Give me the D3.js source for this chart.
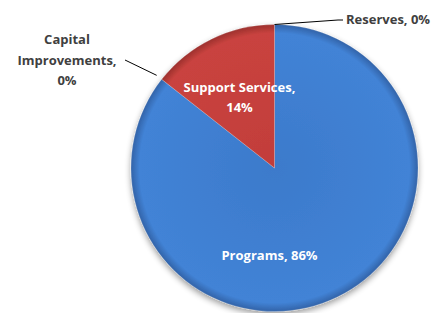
<!DOCTYPE html>
<html>
<head>
<meta charset="utf-8">
<script src="https://cdn.jsdelivr.net/npm/d3@7"></script>
<style>
  body { margin: 0; background: #fff; }
  svg text { font-family: "Open Sans", "Liberation Sans", sans-serif; font-weight: bold; font-size: 13px; }
</style>
</head>
<body>
<svg id="chart"></svg>
<script>
// budget shares, clockwise from 12 o'clock
var categories = ["Programs", "Capital Improvements", "Support Services", "Reserves"];
var values = [85.6, 0, 14.4, 0];
var labels = ["86%", "0%", "14%", "0%"];

var width = 435, height = 313;
var cx = 274.5, cy = 168, r = 143.5;

var svg = d3.select('#chart')
  .attr('width', width)
  .attr('height', height);

var defs = svg.append('defs');

var shadow = defs.append('filter').attr('id', 'shadow')
  .attr('x', '-20%').attr('y', '-20%').attr('width', '140%').attr('height', '140%');
shadow.append('feGaussianBlur').attr('in', 'SourceAlpha').attr('stdDeviation', 3);
shadow.append('feOffset').attr('dx', 0).attr('dy', 3).attr('result', 'b');
shadow.append('feComponentTransfer').append('feFuncA').attr('type', 'linear').attr('slope', 0.4);
var merge = shadow.append('feMerge');
merge.append('feMergeNode');
merge.append('feMergeNode').attr('in', 'SourceGraphic');

// gradient centred on the pie (user space of the translated group)
function grad(id, c1, c2, c3) {
  var g = defs.append('radialGradient').attr('id', id)
    .attr('gradientUnits', 'userSpaceOnUse')
    .attr('cx', 0).attr('cy', 0).attr('r', r);
  g.append('stop').attr('offset', '0%').attr('stop-color', c1);
  g.append('stop').attr('offset', '94%').attr('stop-color', c2);
  g.append('stop').attr('offset', '100%').attr('stop-color', c3);
}
grad('gBlue', '#3c7acb', '#4283d6', '#3263a8');
grad('gRed', '#c23d3a', '#c9433f', '#9c302d');

var fills = { "Programs": "url(#gBlue)", "Support Services": "url(#gRed)",
              "Capital Improvements": "#9bbb59", "Reserves": "#8064a2" };

var pie = d3.pie().sort(null).value(function(d, i) { return values[i]; });
var arcs = pie(categories);
var arc = d3.arc().innerRadius(0).outerRadius(r);

var g = svg.append('g').attr('transform', 'translate(' + cx + ',' + cy + ')');

g.append('g').attr('filter', 'url(#shadow)')
  .selectAll('path')
  .data(arcs.filter(function(a) { return a.value > 0; }))
  .enter().append('path')
  .attr('d', arc)
  .attr('fill', function(a) { return fills[a.data]; })
  .attr('stroke', 'rgba(255,255,255,0.25)')
  .attr('stroke-width', 0.8);

// inside labels
[0, 2].forEach(function(i) {
  var p = i === 0 ? [-5, 92] : [-35, -76];
  var t = g.append('text')
    .attr('fill', '#fff')
    .attr('text-anchor', 'middle');
  if (i === 0) {
    t.attr('x', p[0]).attr('y', p[1]).text(categories[i] + ', ' + labels[i]);
  } else {
    t.append('tspan').attr('x', p[0]).attr('y', p[1]).text(categories[i] + ',');
    t.append('tspan').attr('x', p[0]).attr('y', p[1] + 20).text(labels[i]);
  }
});

// outside labels for zero slices
function edgePt(a) {
  var ang = a.startAngle - Math.PI / 2;
  return [r * Math.cos(ang), r * Math.sin(ang)];
}

var cap = edgePt(arcs[1]);
g.append('line')
  .attr('x1', cap[0] - 5).attr('y1', cap[1] - 4)
  .attr('x2', 125 - cx).attr('y2', 60 - cy)
  .attr('stroke', '#000').attr('stroke-width', 1);
var ct = g.append('text').attr('fill', '#404040').attr('text-anchor', 'middle');
['Capital', 'Improvements,', labels[1]].forEach(function(s, k) {
  ct.append('tspan').attr('x', 67 - cx).attr('y', 44 - cy + k * 20.5).text(s);
});

var res = edgePt(arcs[3]);
g.append('polyline')
  .attr('points', [[res[0], res[1]], [338 - cx, 20 - cy], [343 - cx, 20 - cy]].map(function(p) { return p.join(','); }).join(' '))
  .attr('fill', 'none')
  .attr('stroke', '#000').attr('stroke-width', 1);
g.append('text')
  .attr('fill', '#404040')
  .attr('x', 346 - cx).attr('y', 24 - cy)
  .text(categories[3] + ', ' + labels[3]);
</script>
</body>
</html>
